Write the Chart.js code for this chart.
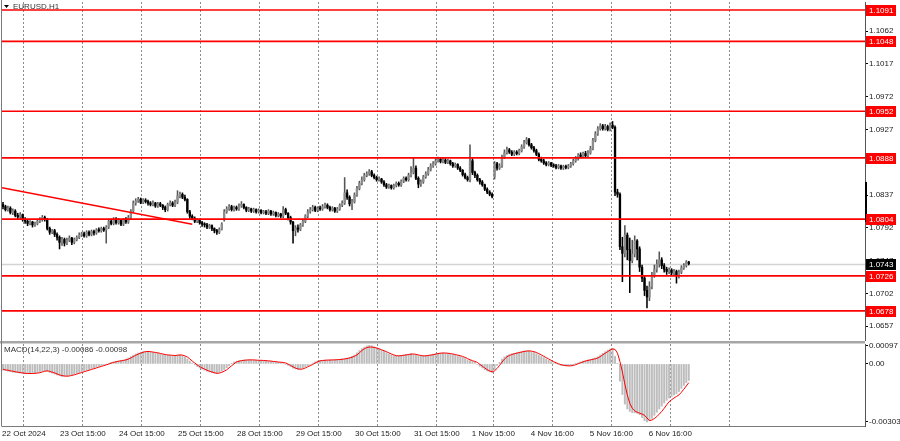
<!DOCTYPE html>
<html>
<head>
<meta charset="utf-8">
<script src="https://cdn.jsdelivr.net/npm/chart.js@4.4.1/dist/chart.umd.min.js"></script>
<style>
  html, body { margin: 0; padding: 0; background: #fff; width: 900px; height: 441px; overflow: hidden; }
  canvas { position: absolute; left: 0; }
  #main { top: 0; }
  #macd { top: 341px; }
</style>
</head>
<body>
<canvas id="main" width="900" height="342"></canvas>
<canvas id="macd" width="900" height="100"></canvas>
<script>
'use strict';

// EURUSD H1 candles, bar 0 = left edge of the window
const open = [
  1.0824,1.0821,1.0817,1.0819,1.0813,1.0815,1.0809,1.0807,1.0810,1.0803,
  1.0801,1.0798,1.0800,1.0796,1.0798,1.0801,1.0803,1.0806,1.0804,1.0791,
  1.0786,1.0788,1.0783,1.0779,1.0772,1.0776,1.0771,1.0775,1.0778,1.0772,
  1.0776,1.0779,1.0782,1.0784,1.0781,1.0786,1.0783,1.0787,1.0785,1.0789,
  1.0788,1.0791,1.0789,1.0793,1.0801,1.0798,1.0804,1.0799,1.0802,1.0797,
  1.0803,1.0800,1.0806,1.0815,1.0826,1.0829,1.0831,1.0827,1.0830,1.0828,
  1.0826,1.0824,1.0826,1.0822,1.0825,1.0823,1.0820,1.0817,1.0824,1.0826,
  1.0823,1.0827,1.0836,1.0838,1.0834,1.0831,1.0814,1.0808,1.0805,1.0801,
  1.0803,1.0799,1.0797,1.0796,1.0793,1.0795,1.0791,1.0788,1.0786,1.0790,
  1.0803,1.0814,1.0818,1.0821,1.0817,1.0820,1.0818,1.0822,1.0824,1.0820,
  1.0816,1.0818,1.0815,1.0817,1.0814,1.0816,1.0813,1.0814,1.0812,1.0815,
  1.0811,1.0813,1.0809,1.0811,1.0808,1.0817,1.0812,1.0806,1.0800,1.0788,
  1.0792,1.0790,1.0796,1.0801,1.0808,1.0814,1.0817,1.0820,1.0816,1.0819,
  1.0818,1.0821,1.0823,1.0820,1.0817,1.0819,1.0815,1.0818,1.0823,1.0826,
  1.0840,1.0834,1.0825,1.0828,1.0837,1.0846,1.0853,1.0858,1.0864,1.0866,
  1.0869,1.0864,1.0861,1.0858,1.0859,1.0855,1.0851,1.0848,1.0850,1.0847,
  1.0850,1.0853,1.0851,1.0856,1.0860,1.0858,1.0864,1.0868,1.0874,1.0860,
  1.0852,1.0855,1.0862,1.0866,1.0872,1.0877,1.0880,1.0884,1.0886,1.0883,
  1.0885,1.0882,1.0884,1.0880,1.0877,1.0879,1.0874,1.0871,1.0865,1.0861,
  1.0858,1.0884,1.0868,1.0864,1.0858,1.0855,1.0851,1.0845,1.0841,1.0838,
  1.0862,1.0880,1.0874,1.0877,1.0889,1.0895,1.0899,1.0896,1.0893,1.0896,
  1.0894,1.0898,1.0903,1.0909,1.0913,1.0906,1.0902,1.0898,1.0893,1.0886,
  1.0884,1.0881,1.0879,1.0881,1.0878,1.0877,1.0875,1.0877,1.0874,1.0876,
  1.0875,1.0877,1.0880,1.0884,1.0887,1.0892,1.0890,1.0894,1.0891,1.0895,
  1.0901,1.0912,1.0921,1.0928,1.0932,1.0928,1.0931,1.0927,1.0933,1.0930,
  1.0841,1.0838,1.0766,1.0757,1.0782,1.0762,1.0747,1.0756,1.0774,1.0763,
  1.0738,1.0723,1.0706,1.0697,1.0711,1.0727,1.0735,1.0742,1.0748,1.0740,
  1.0735,1.0732,1.0734,1.0730,1.0732,1.0726,1.0731,1.0737,1.0740,1.0745
];
const high = [
  1.0827,1.0823,1.0822,1.0821,1.0818,1.0817,1.0812,1.0813,1.0811,1.0806,
  1.0803,1.0802,1.0801,1.0800,1.0803,1.0806,1.0809,1.0808,1.0805,1.0793,
  1.0790,1.0790,1.0785,1.0781,1.0779,1.0778,1.0778,1.0781,1.0779,1.0778,
  1.0781,1.0785,1.0786,1.0786,1.0788,1.0788,1.0789,1.0789,1.0791,1.0792,
  1.0793,1.0793,1.0795,1.0803,1.0804,1.0806,1.0806,1.0805,1.0803,1.0805,
  1.0806,1.0809,1.0817,1.0829,1.0832,1.0834,1.0833,1.0832,1.0832,1.0830,
  1.0828,1.0829,1.0827,1.0827,1.0827,1.0824,1.0822,1.0826,1.0829,1.0828,
  1.0830,1.0843,1.0841,1.0840,1.0837,1.0832,1.0816,1.0810,1.0807,1.0805,
  1.0804,1.0801,1.0799,1.0798,1.0797,1.0796,1.0792,1.0790,1.0792,1.0799,
  1.0817,1.0821,1.0824,1.0823,1.0822,1.0822,1.0825,1.0828,1.0825,1.0821,
  1.0820,1.0819,1.0819,1.0818,1.0818,1.0817,1.0816,1.0816,1.0817,1.0816,
  1.0815,1.0814,1.0813,1.0812,1.0821,1.0819,1.0813,1.0808,1.0801,1.0795,
  1.0796,1.0798,1.0804,1.0810,1.0817,1.0820,1.0823,1.0822,1.0821,1.0822,
  1.0824,1.0826,1.0825,1.0822,1.0821,1.0820,1.0820,1.0825,1.0829,1.0861,
  1.0844,1.0836,1.0831,1.0840,1.0849,1.0856,1.0862,1.0867,1.0869,1.0872,
  1.0871,1.0866,1.0863,1.0862,1.0860,1.0857,1.0853,1.0852,1.0851,1.0852,
  1.0855,1.0855,1.0858,1.0862,1.0862,1.0867,1.0876,1.0888,1.0877,1.0862,
  1.0858,1.0864,1.0869,1.0875,1.0880,1.0883,1.0887,1.0889,1.0888,1.0888,
  1.0887,1.0886,1.0885,1.0882,1.0881,1.0880,1.0876,1.0872,1.0867,1.0863,
  1.0906,1.0887,1.0870,1.0866,1.0860,1.0857,1.0852,1.0847,1.0843,1.0840,
  1.0883,1.0882,1.0880,1.0892,1.0899,1.0903,1.0901,1.0898,1.0898,1.0898,
  1.0900,1.0906,1.0912,1.0916,1.0915,1.0908,1.0904,1.0900,1.0895,1.0889,
  1.0886,1.0883,1.0883,1.0882,1.0880,1.0879,1.0879,1.0878,1.0878,1.0878,
  1.0879,1.0882,1.0886,1.0890,1.0894,1.0895,1.0896,1.0897,1.0898,1.0904,
  1.0915,1.0924,1.0931,1.0935,1.0934,1.0934,1.0933,1.0936,1.0938,1.0932,
  1.0845,1.0840,1.0779,1.0795,1.0785,1.0778,1.0775,1.0781,1.0776,1.0766,
  1.0741,1.0726,1.0712,1.0718,1.0731,1.0741,1.0748,1.0759,1.0751,1.0743,
  1.0738,1.0737,1.0736,1.0735,1.0734,1.0734,1.0740,1.0743,1.0747,1.0746
];
const low = [
  1.0818,1.0815,1.0815,1.0811,1.0810,1.0807,1.0804,1.0805,1.0801,1.0798,
  1.0795,1.0796,1.0793,1.0794,1.0796,1.0799,1.0801,1.0801,1.0789,1.0783,
  1.0784,1.0780,1.0775,1.0763,1.0768,1.0767,1.0769,1.0773,1.0769,1.0770,
  1.0774,1.0777,1.0780,1.0779,1.0779,1.0781,1.0781,1.0782,1.0783,1.0786,
  1.0786,1.0787,1.0771,1.0791,1.0796,1.0796,1.0797,1.0797,1.0795,1.0795,
  1.0798,1.0798,1.0804,1.0813,1.0823,1.0827,1.0825,1.0825,1.0826,1.0823,
  1.0822,1.0822,1.0820,1.0820,1.0821,1.0817,1.0814,1.0815,1.0822,1.0821,
  1.0821,1.0825,1.0833,1.0832,1.0829,1.0812,1.0805,1.0803,1.0799,1.0799,
  1.0797,1.0794,1.0793,1.0791,1.0791,1.0788,1.0785,1.0783,1.0784,1.0789,
  1.0801,1.0812,1.0816,1.0815,1.0815,1.0816,1.0816,1.0820,1.0818,1.0814,
  1.0814,1.0813,1.0813,1.0812,1.0812,1.0811,1.0811,1.0810,1.0810,1.0809,
  1.0809,1.0807,1.0807,1.0806,1.0806,1.0810,1.0803,1.0797,1.0771,1.0781,
  1.0786,1.0788,1.0794,1.0799,1.0806,1.0812,1.0815,1.0814,1.0814,1.0816,
  1.0816,1.0819,1.0818,1.0815,1.0815,1.0813,1.0813,1.0816,1.0821,1.0824,
  1.0831,1.0822,1.0817,1.0826,1.0835,1.0844,1.0851,1.0856,1.0862,1.0864,
  1.0862,1.0859,1.0856,1.0856,1.0853,1.0849,1.0846,1.0846,1.0845,1.0845,
  1.0848,1.0849,1.0849,1.0854,1.0856,1.0856,1.0862,1.0866,1.0858,1.0847,
  1.0849,1.0853,1.0860,1.0864,1.0870,1.0875,1.0878,1.0882,1.0881,1.0881,
  1.0880,1.0880,1.0878,1.0875,1.0875,1.0872,1.0869,1.0863,1.0859,1.0856,
  1.0855,1.0865,1.0861,1.0856,1.0852,1.0849,1.0843,1.0839,1.0836,1.0833,
  1.0859,1.0871,1.0872,1.0875,1.0887,1.0893,1.0894,1.0891,1.0891,1.0892,
  1.0892,1.0896,1.0901,1.0907,1.0904,1.0900,1.0896,1.0891,1.0884,1.0882,
  1.0879,1.0877,1.0877,1.0876,1.0875,1.0873,1.0873,1.0872,1.0872,1.0873,
  1.0873,1.0875,1.0878,1.0882,1.0885,1.0888,1.0888,1.0889,1.0889,1.0893,
  1.0899,1.0910,1.0919,1.0926,1.0926,1.0926,1.0925,1.0925,1.0928,1.0836,
  1.0834,1.0762,1.0718,1.0752,1.0748,1.0703,1.0744,1.0752,1.0748,1.0732,
  1.0718,1.0699,1.0682,1.0692,1.0708,1.0724,1.0731,1.0738,1.0736,1.0731,
  1.0728,1.0729,1.0727,1.0727,1.0716,1.0723,1.0729,1.0735,1.0738,1.0741
];
const close = [
  1.0821,1.0817,1.0819,1.0813,1.0815,1.0809,1.0807,1.0810,1.0803,1.0801,
  1.0798,1.0800,1.0796,1.0798,1.0801,1.0803,1.0806,1.0804,1.0791,1.0786,
  1.0788,1.0783,1.0779,1.0772,1.0776,1.0771,1.0775,1.0778,1.0772,1.0776,
  1.0779,1.0782,1.0784,1.0781,1.0786,1.0783,1.0787,1.0785,1.0789,1.0788,
  1.0791,1.0789,1.0793,1.0801,1.0798,1.0804,1.0799,1.0802,1.0797,1.0803,
  1.0800,1.0806,1.0815,1.0826,1.0829,1.0831,1.0827,1.0830,1.0828,1.0826,
  1.0824,1.0826,1.0822,1.0825,1.0823,1.0820,1.0817,1.0824,1.0826,1.0823,
  1.0827,1.0836,1.0838,1.0834,1.0831,1.0814,1.0808,1.0805,1.0801,1.0803,
  1.0799,1.0797,1.0796,1.0793,1.0795,1.0791,1.0788,1.0786,1.0790,1.0797,
  1.0814,1.0818,1.0821,1.0817,1.0820,1.0818,1.0822,1.0824,1.0820,1.0816,
  1.0818,1.0815,1.0817,1.0814,1.0816,1.0813,1.0814,1.0812,1.0815,1.0811,
  1.0813,1.0809,1.0811,1.0808,1.0817,1.0812,1.0806,1.0800,1.0788,1.0792,
  1.0790,1.0796,1.0801,1.0808,1.0814,1.0817,1.0820,1.0816,1.0819,1.0818,
  1.0821,1.0823,1.0820,1.0817,1.0819,1.0815,1.0818,1.0823,1.0826,1.0840,
  1.0834,1.0825,1.0828,1.0837,1.0846,1.0853,1.0858,1.0864,1.0866,1.0869,
  1.0864,1.0861,1.0858,1.0859,1.0855,1.0851,1.0848,1.0850,1.0847,1.0850,
  1.0853,1.0851,1.0856,1.0860,1.0858,1.0864,1.0868,1.0874,1.0860,1.0852,
  1.0855,1.0862,1.0866,1.0872,1.0877,1.0880,1.0884,1.0886,1.0883,1.0885,
  1.0882,1.0884,1.0880,1.0877,1.0879,1.0874,1.0871,1.0865,1.0861,1.0858,
  1.0884,1.0868,1.0864,1.0858,1.0855,1.0851,1.0845,1.0841,1.0838,1.0835,
  1.0880,1.0874,1.0877,1.0889,1.0895,1.0899,1.0896,1.0893,1.0896,1.0894,
  1.0898,1.0903,1.0909,1.0913,1.0906,1.0902,1.0898,1.0893,1.0886,1.0884,
  1.0881,1.0879,1.0881,1.0878,1.0877,1.0875,1.0877,1.0874,1.0876,1.0875,
  1.0877,1.0880,1.0884,1.0887,1.0892,1.0890,1.0894,1.0891,1.0895,1.0901,
  1.0912,1.0921,1.0928,1.0932,1.0928,1.0931,1.0927,1.0933,1.0930,1.0841,
  1.0838,1.0766,1.0757,1.0782,1.0762,1.0747,1.0756,1.0774,1.0763,1.0738,
  1.0723,1.0706,1.0697,1.0711,1.0727,1.0735,1.0742,1.0748,1.0740,1.0735,
  1.0732,1.0734,1.0730,1.0732,1.0726,1.0731,1.0737,1.0740,1.0745,1.0743
];

// MACD(14,22,3): main (histogram) and signal
const macdMain = [
  -0.00033,-0.00035,-0.00038,-0.00040,-0.00043,-0.00045,-0.00047,-0.00048,-0.00050,-0.00051,
  -0.00051,-0.00050,-0.00050,-0.00048,-0.00046,-0.00042,-0.00038,-0.00036,-0.00039,-0.00044,
  -0.00048,-0.00053,-0.00058,-0.00062,-0.00065,-0.00065,-0.00063,-0.00060,-0.00057,-0.00053,
  -0.00049,-0.00045,-0.00041,-0.00037,-0.00033,-0.00029,-0.00025,-0.00021,-0.00017,-0.00013,
  -0.00009,-0.00005,-0.00001,0.00004,0.00008,0.00011,0.00014,0.00016,0.00018,0.00021,
  0.00025,0.00031,0.00038,0.00046,0.00052,0.00057,0.00061,0.00064,0.00065,0.00064,
  0.00062,0.00060,0.00058,0.00055,0.00052,0.00049,0.00047,0.00046,0.00045,0.00044,
  0.00045,0.00047,0.00047,0.00043,0.00036,0.00026,0.00015,0.00005,-0.00005,-0.00014,
  -0.00021,-0.00027,-0.00033,-0.00038,-0.00042,-0.00046,-0.00049,-0.00050,-0.00044,-0.00038,
  -0.00031,-0.00020,-0.00010,0.00001,0.00010,0.00014,0.00017,0.00019,0.00020,0.00021,
  0.00021,0.00021,0.00020,0.00019,0.00019,0.00018,0.00017,0.00016,0.00015,0.00013,
  0.00012,0.00010,0.00009,0.00008,0.00005,-0.00001,-0.00008,-0.00015,-0.00022,-0.00026,
  -0.00028,-0.00026,-0.00021,-0.00015,-0.00009,-0.00003,0.00005,0.00011,0.00016,0.00018,
  0.00019,0.00020,0.00020,0.00021,0.00021,0.00022,0.00023,0.00024,0.00026,0.00028,
  0.00031,0.00035,0.00040,0.00047,0.00058,0.00070,0.00080,0.00088,0.00094,0.00097,
  0.00095,0.00090,0.00084,0.00078,0.00072,0.00066,0.00059,0.00052,0.00047,0.00043,
  0.00042,0.00043,0.00045,0.00047,0.00049,0.00051,0.00054,0.00050,0.00047,0.00044,
  0.00042,0.00042,0.00044,0.00046,0.00048,0.00051,0.00054,0.00056,0.00057,0.00057,
  0.00056,0.00054,0.00052,0.00049,0.00046,0.00043,0.00039,0.00034,0.00028,0.00022,
  0.00017,0.00013,0.00008,-0.00002,-0.00012,-0.00021,-0.00030,-0.00037,-0.00041,-0.00045,
  -0.00030,-0.00008,0.00009,0.00025,0.00037,0.00044,0.00049,0.00053,0.00056,0.00059,
  0.00062,0.00065,0.00067,0.00069,0.00067,0.00064,0.00060,0.00054,0.00047,0.00040,
  0.00033,0.00026,0.00019,0.00012,0.00006,0.00001,-0.00004,-0.00007,-0.00009,-0.00010,
  -0.00010,-0.00008,-0.00004,0.00001,0.00006,0.00011,0.00015,0.00018,0.00021,0.00024,
  0.00027,0.00031,0.00038,0.00047,0.00056,0.00064,0.00072,0.00078,0.00081,0.00040,
  0.00001,-0.00090,-0.00160,-0.00210,-0.00235,-0.00248,-0.00254,-0.00255,-0.00258,-0.00265,
  -0.00280,-0.00296,-0.00303,-0.00296,-0.00284,-0.00268,-0.00252,-0.00235,-0.00220,-0.00204,
  -0.00190,-0.00178,-0.00170,-0.00162,-0.00155,-0.00144,-0.00128,-0.00112,-0.00098,-0.00086
];
const macdSignal = [
  -0.00028,-0.00031,-0.00033,-0.00036,-0.00038,-0.00041,-0.00043,-0.00045,-0.00047,-0.00049,
  -0.00050,-0.00050,-0.00050,-0.00049,-0.00048,-0.00046,-0.00042,-0.00038,-0.00036,-0.00039,
  -0.00043,-0.00047,-0.00052,-0.00057,-0.00061,-0.00063,-0.00064,-0.00063,-0.00060,-0.00057,
  -0.00053,-0.00049,-0.00045,-0.00041,-0.00037,-0.00033,-0.00029,-0.00025,-0.00021,-0.00017,
  -0.00013,-0.00009,-0.00005,-0.00001,0.00004,0.00008,0.00011,0.00014,0.00016,0.00018,
  0.00021,0.00025,0.00031,0.00038,0.00045,0.00051,0.00056,0.00061,0.00064,0.00065,
  0.00064,0.00062,0.00060,0.00058,0.00055,0.00052,0.00049,0.00047,0.00046,0.00045,
  0.00044,0.00045,0.00047,0.00046,0.00042,0.00036,0.00026,0.00015,0.00005,-0.00005,
  -0.00014,-0.00021,-0.00027,-0.00033,-0.00038,-0.00042,-0.00046,-0.00049,-0.00048,-0.00044,
  -0.00038,-0.00031,-0.00020,-0.00010,0.00001,0.00010,0.00014,0.00017,0.00019,0.00020,
  0.00021,0.00021,0.00021,0.00020,0.00019,0.00019,0.00018,0.00017,0.00016,0.00015,
  0.00013,0.00012,0.00010,0.00009,0.00008,0.00005,-0.00001,-0.00008,-0.00015,-0.00022,
  -0.00026,-0.00028,-0.00026,-0.00021,-0.00015,-0.00009,-0.00003,0.00005,0.00011,0.00016,
  0.00018,0.00019,0.00020,0.00020,0.00021,0.00021,0.00022,0.00023,0.00024,0.00026,
  0.00028,0.00031,0.00035,0.00040,0.00047,0.00058,0.00070,0.00079,0.00085,0.00088,
  0.00088,0.00086,0.00083,0.00079,0.00074,0.00069,0.00064,0.00058,0.00052,0.00047,
  0.00043,0.00042,0.00043,0.00045,0.00047,0.00049,0.00051,0.00052,0.00050,0.00047,
  0.00044,0.00042,0.00042,0.00044,0.00046,0.00048,0.00051,0.00054,0.00056,0.00057,
  0.00057,0.00056,0.00054,0.00052,0.00049,0.00046,0.00043,0.00039,0.00034,0.00028,
  0.00022,0.00017,0.00013,0.00008,-0.00002,-0.00012,-0.00021,-0.00030,-0.00037,-0.00041,
  -0.00036,-0.00024,-0.00008,0.00009,0.00025,0.00037,0.00044,0.00049,0.00053,0.00056,
  0.00059,0.00062,0.00065,0.00067,0.00068,0.00067,0.00064,0.00060,0.00054,0.00047,
  0.00040,0.00033,0.00026,0.00019,0.00012,0.00006,0.00001,-0.00004,-0.00007,-0.00009,
  -0.00010,-0.00010,-0.00008,-0.00004,0.00001,0.00006,0.00011,0.00015,0.00018,0.00021,
  0.00024,0.00027,0.00031,0.00038,0.00047,0.00056,0.00064,0.00072,0.00078,0.00076,
  0.00056,0.00012,-0.00042,-0.00105,-0.00162,-0.00205,-0.00231,-0.00245,-0.00252,-0.00257,
  -0.00262,-0.00268,-0.00282,-0.00296,-0.00293,-0.00285,-0.00275,-0.00262,-0.00248,-0.00232,
  -0.00214,-0.00197,-0.00187,-0.00178,-0.00170,-0.00162,-0.00148,-0.00132,-0.00115,-0.00098
];

// horizontal levels, trend line and last price
const levels = [1.1091, 1.1048, 1.0952, 1.0888, 1.0804, 1.0726, 1.0678];
const trendX = [-0.4, 77];
const trendY = [1.0847, 1.0797];
const lastPrice = 1.0743;

// axes
const priceTicks = [1.1062, 1.1017, 1.0972, 1.0927, 1.0882, 1.0837, 1.0792, 1.0747, 1.0702, 1.0657];
const macdTicks = [0.00097, 0, -0.00303];
const timeTicks = [8.5, 32.5, 56.5, 80.5, 104.5, 128.5, 152.5, 176.5, 199.5, 223.5, 247.5, 271.5, 295.5];
const timeLabels = ['22 Oct 2024', '23 Oct 15:00', '24 Oct 15:00', '25 Oct 15:00', '28 Oct 15:00',
  '29 Oct 15:00', '30 Oct 15:00', '31 Oct 15:00', '1 Nov 15:00', '4 Nov 16:00', '5 Nov 16:00',
  '6 Nov 16:00', ''];

const X_MIN = -0.407, X_MAX = 350.7;
const AXIS_W = 35;
const FONT = '"Liberation Sans", Arial, sans-serif';

Chart.defaults.font.family = FONT;
Chart.defaults.font.size = 8;
Chart.defaults.color = '#1a1a1a';
Chart.defaults.animation = false;

const isUp = close.map(function (c, i) { return c >= open[i]; });

// keep chart areas exactly where the padding says (no room reserved for label overhang)
function noPad(s) {
  s.paddingTop = 0; s.paddingBottom = 0; s.paddingLeft = 0; s.paddingRight = 0;
}

function xAxis(showLabels) {
  return {
    type: 'linear', min: X_MIN, max: X_MAX, offset: false,
    afterBuildTicks: function (s) { s.ticks = timeTicks.map(function (v) { return { value: v }; }); },
    afterFit: function (s) { s.height = showLabels ? 15 : 0; noPad(s); },
    grid: { color: '#8a8a8a', lineWidth: 1, drawTicks: false, offset: false },
    border: { display: false, dash: [2, 2] },
    ticks: {
      display: showLabels, autoSkip: false, maxRotation: 0, padding: 3,
      callback: function (v, i) { return timeLabels[i]; }
    }
  };
}

function yAxis(min, max, tickVals, fmt) {
  return {
    position: 'right', min: min, max: max,
    afterFit: function (s) { s.width = AXIS_W; noPad(s); },
    afterBuildTicks: function (s) { s.ticks = tickVals.map(function (v) { return { value: v }; }); },
    grid: { drawOnChartArea: false, drawTicks: true, tickLength: 3, color: '#000' },
    border: { display: true, color: '#555', width: 1 },
    ticks: { autoSkip: false, padding: 1, callback: fmt }
  };
}

function priceBox(ctx, x, py, txt, bg) {
  ctx.fillStyle = bg;
  ctx.fillRect(x + 1, Math.round(py) - 5, 30, 11);
  ctx.fillStyle = '#fff';
  ctx.font = '8px ' + FONT;
  ctx.textBaseline = 'middle';
  ctx.textAlign = 'left';
  ctx.fillText(txt, x + 4, Math.round(py) + 0.5);
}

const mainDeco = {
  id: 'mainDeco',
  beforeDatasetsDraw: function (chart) {
    const ctx = chart.ctx, a = chart.chartArea, y = chart.scales.y;
    const py = Math.round(y.getPixelForValue(lastPrice)) + 0.5;
    ctx.save();
    ctx.strokeStyle = '#d4d4d4';
    ctx.lineWidth = 1.5;
    ctx.beginPath(); ctx.moveTo(a.left, py); ctx.lineTo(a.right, py); ctx.stroke();
    ctx.restore();
  },
  afterDatasetsDraw: function (chart) {
    const ctx = chart.ctx, a = chart.chartArea, y = chart.scales.y;
    ctx.save();
    ctx.strokeStyle = '#ff0000';
    ctx.lineWidth = 1.6;
    levels.forEach(function (v) {
      const py = y.getPixelForValue(v);
      ctx.beginPath(); ctx.moveTo(a.left, py); ctx.lineTo(a.right, py); ctx.stroke();
    });
    ctx.restore();
  },
  afterDraw: function (chart) {
    const ctx = chart.ctx, a = chart.chartArea, y = chart.scales.y;
    ctx.save();
    // frame
    ctx.strokeStyle = '#7a7a7a';
    ctx.lineWidth = 1;
    ctx.beginPath(); ctx.moveTo(1.5, 0); ctx.lineTo(1.5, chart.height); ctx.stroke();
    // small black marker on the price axis
    ctx.fillStyle = '#000';
    const t = y.getPixelForValue(1.0855), b = y.getPixelForValue(1.0800);
    ctx.fillRect(a.right, t, 2, b - t);
    // price labels
    levels.forEach(function (v) { priceBox(ctx, a.right, y.getPixelForValue(v), v.toFixed(4), '#ff0000'); });
    priceBox(ctx, a.right, y.getPixelForValue(lastPrice), lastPrice.toFixed(4), '#000');
    // symbol title
    ctx.fillStyle = '#000';
    ctx.beginPath(); ctx.moveTo(4, 5); ctx.lineTo(9, 5); ctx.lineTo(6.5, 8); ctx.closePath(); ctx.fill();
    ctx.fillStyle = '#333';
    ctx.font = '8px ' + FONT;
    ctx.textBaseline = 'middle';
    ctx.textAlign = 'left';
    ctx.fillText('EURUSD,H1', 13, 7);
    ctx.restore();
  }
};

const macdDeco = {
  id: 'macdDeco',
  afterDraw: function (chart) {
    const ctx = chart.ctx, a = chart.chartArea;
    ctx.save();
    ctx.fillStyle = '#a6a6a6';
    ctx.fillRect(0, 0, a.right, 2.5);
    ctx.strokeStyle = '#7a7a7a';
    ctx.lineWidth = 1;
    ctx.beginPath();
    ctx.moveTo(1.5, 0); ctx.lineTo(1.5, a.bottom);
    ctx.moveTo(1.5, a.bottom + 0.5); ctx.lineTo(a.right, a.bottom + 0.5);
    ctx.stroke();
    ctx.fillStyle = '#333';
    ctx.font = '8px ' + FONT;
    ctx.textBaseline = 'middle';
    ctx.textAlign = 'left';
    ctx.fillText('MACD(14,22,3) -0.00086 -0.00098', 4, 9);
    ctx.restore();
  }
};

new Chart(document.getElementById('main'), {
  type: 'bar',
  data: {
    datasets: [
      {
        label: 'wick',
        data: close.map(function (c, i) { return { x: i, y: [low[i], high[i]] }; }),
        backgroundColor: isUp.map(function (u) { return u ? '#555' : '#000'; }),
        barThickness: 0.9, grouped: false, order: 2
      },
      {
        label: 'body',
        data: close.map(function (c, i) { return { x: i, y: [open[i], c] }; }),
        backgroundColor: isUp.map(function (u) { return u ? '#8c8c8c' : '#000'; }),
        barThickness: 1.7, grouped: false, minBarLength: 1, order: 1
      },
      {
        type: 'line', label: 'trend',
        data: trendX.map(function (x, i) { return { x: x, y: trendY[i] }; }),
        borderColor: '#ff0000', borderWidth: 1.5, pointRadius: 0, order: 0
      }
    ]
  },
  options: {
    responsive: false,
    events: [],
    layout: { padding: { top: 2, bottom: 2, left: 2, right: 0 } },
    plugins: { legend: { display: false }, tooltip: { enabled: false } },
    scales: {
      x: xAxis(false),
      y: yAxis(1.0638, 1.1102, priceTicks, function (v) { return v.toFixed(4); })
    }
  },
  plugins: [mainDeco]
});

new Chart(document.getElementById('macd'), {
  type: 'bar',
  data: {
    datasets: [
      {
        label: 'main',
        data: macdMain.map(function (v, i) { return { x: i, y: v }; }),
        backgroundColor: '#bdbdbd', barThickness: 1.3, grouped: false, order: 1
      },
      {
        type: 'line', label: 'signal',
        data: macdSignal.map(function (v, i) { return { x: i, y: v }; }),
        borderColor: '#ff0000', borderWidth: 1, pointRadius: 0, order: 0
      }
    ]
  },
  options: {
    responsive: false,
    events: [],
    layout: { padding: { top: 3, bottom: 0, left: 2, right: 0 } },
    plugins: { legend: { display: false }, tooltip: { enabled: false } },
    scales: {
      x: xAxis(true),
      y: yAxis(-0.00324, 0.00104, macdTicks, function (v) { return v === 0 ? '0.00' : v.toFixed(5); })
    }
  },
  plugins: [macdDeco]
});
</script>
</body>
</html>
